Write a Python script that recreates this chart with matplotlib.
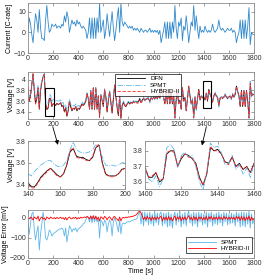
import numpy as np
import matplotlib.pyplot as plt
from matplotlib.patches import Rectangle

# --- data (10 s steps, 0..1800 s) ---
time_s = np.arange(0, 1801, 10)

current_c = [
    0, 7, 4, -1, -5, 2, 9, 6, 0, 11, 2, -3, -3, -4, 6, 13, 5, 0, 1, 4,
    3, 3, 4, 2, 3, 3, 2, 4, 3, 8, 5, 10, 7, 0, 3, 6, 4, 5, 3, 6,
    4, 5, 3, 2, 3, 2, 1, -3, 0, 7, -3, 7, -3, 7, -3, 7, 0, 14, 0, 3,
    6, -3, 1, 9, 3, -2, 4, 10, 2, -4, 1, 7, 12, 0, 14, 5, 3, 5, 4, 3,
    2, 3, 2, 3, 1, 2, 1, 2, 1, 0, 2, 1, 0, 1, 1, 0, 1, 2, 0, 1,
    0, 1, 0, 1, -1, 1, -5, -2, 1, 5, -3, 5, -3, 5, -3, 5, 0, 13, 2, -3,
    5, 3, 7, -4, 3, 1, 8, 2, -5, 0, 5, 3, 13, 1, 8, 2, -3, 3, 0, 1,
    0, 3, 1, 0, 1, 0, 1, 4, 1, 0, 1, 2, 6, 2, 1, 2, 1, 0, 1, 2,
    1, 1, 2, 0, 1, 0, -5, -2, 0, 6, -3, 6, -3, 6, -3, 3, 12, -6, 0, -1,
    -1,
]

dfn_v = [
    3.85, 3.60, 3.70, 3.90, 4.10, 3.80, 3.55, 3.65, 3.85, 3.45, 3.80, 3.95, 4.05, 4.10, 3.55, 3.45, 3.47, 3.65, 3.65, 3.50,
    3.55, 3.55, 3.52, 3.56, 3.54, 3.55, 3.57, 3.50, 3.52, 3.40, 3.48, 3.32, 3.42, 3.60, 3.50, 3.42, 3.47, 3.45, 3.50, 3.42,
    3.47, 3.45, 3.50, 3.55, 3.52, 3.55, 3.60, 3.75, 3.65, 3.45, 3.80, 3.45, 3.85, 3.45, 3.85, 3.45, 3.70, 3.30, 3.72, 3.62,
    3.50, 3.82, 3.68, 3.40, 3.62, 3.78, 3.58, 3.38, 3.65, 3.90, 3.68, 3.48, 3.33, 3.70, 3.28, 3.52, 3.58, 3.52, 3.50, 3.55,
    3.58, 3.55, 3.58, 3.56, 3.60, 3.58, 3.60, 3.58, 3.60, 3.65, 3.58, 3.62, 3.65, 3.62, 3.63, 3.66, 3.64, 3.60, 3.66, 3.64,
    3.67, 3.65, 3.68, 3.65, 3.70, 3.65, 3.85, 3.76, 3.67, 3.55, 3.80, 3.55, 3.80, 3.55, 3.80, 3.55, 3.70, 3.30, 3.62, 3.80,
    3.55, 3.62, 3.45, 3.85, 3.60, 3.67, 3.42, 3.64, 3.88, 3.70, 3.55, 3.62, 3.30, 3.66, 3.45, 3.64, 3.82, 3.62, 3.70, 3.66,
    3.68, 3.62, 3.75, 3.60, 3.82, 3.72, 3.68, 3.58, 3.70, 3.74, 3.70, 3.66, 3.52, 3.65, 3.68, 3.65, 3.68, 3.72, 3.68, 3.65,
    3.68, 3.69, 3.65, 3.72, 3.68, 3.72, 3.88, 3.78, 3.70, 3.50, 3.80, 3.50, 3.80, 3.50, 3.80, 3.60, 3.30, 3.92, 3.70, 3.72,
    3.72,
]

# error = DFN - model, in mV
spmt_err_mv = [
    -20, -80, -30, 20, 30, -60, -110, -70, -40, -160, -80, -30, 30, -20, -100, -110, -90, -60, -70, -90,
    -80, -75, -70, -65, -60, -55, -55, -50, -60, -90, -50, -120, -80, -40, -50, -70, -55, -60, -50, -70,
    -55, -50, -45, -40, -30, -25, -10, 5, 0, -20, 10, -25, 10, -20, 5, -20, -5, -100, -10, -20,
    -40, -10, -20, -70, -30, -10, -25, -90, -20, 0, -15, -40, -70, -10, -80, -30, -25, -30, -25, -20,
    -18, -20, -15, -12, -10, -8, -5, 0, 20, 30, -30, 30, -40, 30, -20, 25, -35, 30, -30, 20,
    -40, 30, -25, 25, -35, 20, 30, -40, 25, -30, 25, -45, 30, -40, 20, -50, 10, 30, -35, 25,
    -20, 30, -45, 20, -30, 30, -40, 15, 35, -25, 20, -40, 30, -30, 25, -45, 30, -20, 25, -35,
    20, -30, 30, -45, 25, -20, 30, -40, 20, -30, 25, -35, 30, -25, 20, -40, 30, -20, 25, -35,
    20, -30, 25, -25, 20, -40, 30, -20, 25, -45, 30, -40, 30, -45, 25, -30, 35, -50, 20, -30,
    -10,
]

hybrid_err_mv = [
    0, -5, 5, 0, -10, 5, 0, -5, 10, -15, 0, 5, -5, 0, -10, 5, 0, -5, 5, 0,
    -3, 2, -4, 3, -2, 0, 4, -3, 2, -8, 3, -10, 0, 5, -2, -5, 3, -2, 4, -6,
    2, -3, 4, 0, 3, 5, 2, 8, 4, -5, 10, -6, 12, -5, 10, -8, 5, -15, 6, 2,
    -6, 8, 3, -10, 2, 6, -3, -12, 4, 8, -2, -6, -14, 5, -15, 0, 3, 0, 5, 2,
    6, 4, 8, 6, 10, 12, 15, 22, 30, 35, 25, 10, -8, 5, -10, 8, -5, 3, -12, 6,
    -8, 4, -10, 6, -5, 2, 10, -15, 4, -8, 5, -12, 8, -10, 3, -15, 0, 10, -12, 5,
    -6, 8, -14, 4, -8, 6, -10, 2, 12, -6, 3, -12, 8, -8, 5, -15, 6, -4, 5, -10,
    3, -8, 8, -12, 6, -4, 8, -10, 4, -6, 5, -9, 7, -5, 3, -10, 8, -4, 5, -8,
    4, -6, 5, -5, 3, -10, 8, -4, 6, -12, 8, -10, 6, -14, 5, -8, 10, -15, 5, -10,
    -5,
]

# zoom windows (2 s steps)
zoom1_t = np.arange(140, 201, 2)
zoom1_dfn = [3.42, 3.38, 3.38, 3.42, 3.47, 3.50, 3.53, 3.55, 3.52, 3.49, 3.47, 3.50, 3.58, 3.70, 3.73, 3.66,
             3.65, 3.65, 3.63, 3.62, 3.65, 3.74, 3.76, 3.60, 3.50, 3.48, 3.48, 3.48, 3.50, 3.54, 3.55]
zoom1_spmt = [3.50, 3.48, 3.52, 3.55, 3.58, 3.60, 3.62, 3.62, 3.59, 3.57, 3.56, 3.58, 3.62, 3.72, 3.79, 3.72,
              3.70, 3.69, 3.69, 3.70, 3.72, 3.77, 3.75, 3.65, 3.58, 3.57, 3.58, 3.57, 3.58, 3.60, 3.60]
zoom1_hybrid = [3.40, 3.37, 3.37, 3.41, 3.46, 3.49, 3.52, 3.55, 3.51, 3.48, 3.47, 3.50, 3.59, 3.71, 3.74, 3.65,
                3.64, 3.64, 3.62, 3.62, 3.66, 3.75, 3.77, 3.59, 3.49, 3.48, 3.47, 3.48, 3.50, 3.53, 3.55]

zoom2_t = np.arange(1400, 1461, 2)
zoom2_dfn = [3.69, 3.63, 3.63, 3.66, 3.60, 3.62, 3.78, 3.80, 3.80, 3.70, 3.75, 3.78, 3.77, 3.75, 3.72, 3.63,
             3.58, 3.65, 3.82, 3.80, 3.81, 3.78, 3.73, 3.72, 3.76, 3.70, 3.72, 3.68, 3.70, 3.66, 3.72]
zoom2_spmt = [3.68, 3.62, 3.60, 3.64, 3.57, 3.62, 3.82, 3.84, 3.81, 3.69, 3.77, 3.79, 3.76, 3.77, 3.70, 3.60,
              3.55, 3.66, 3.85, 3.82, 3.83, 3.79, 3.71, 3.72, 3.77, 3.68, 3.71, 3.65, 3.69, 3.63, 3.72]
zoom2_hybrid = [3.70, 3.63, 3.64, 3.66, 3.61, 3.62, 3.79, 3.80, 3.79, 3.70, 3.76, 3.78, 3.76, 3.75, 3.71, 3.62,
                3.58, 3.66, 3.83, 3.80, 3.80, 3.78, 3.73, 3.71, 3.76, 3.70, 3.71, 3.68, 3.70, 3.66, 3.72]

# boxes drawn on the voltage panel: (t0, t1, v0, v1)
box1 = (135, 204, 3.33, 3.84)
box2 = (1393, 1459, 3.48, 3.98)

spmt_v = np.array(dfn_v) - np.array(spmt_err_mv) / 1000.0
hybrid_v = np.array(dfn_v) - np.array(hybrid_err_mv) / 1000.0

c_cur = '#2f88cc'
c_spmt = '#5cb6ea'
c_hyb = '#ff2a2a'
edge = '#8c8c8c'
fs = 5

plt.rcParams['font.family'] = ['Liberation Sans', 'DejaVu Sans']
plt.rcParams['font.size'] = fs

fig = plt.figure(figsize=(2.72, 2.75), dpi=100)
W, H = 272.0, 275.0


def px_axes(x0, y0, x1, y1):
    return fig.add_axes([x0 / W, 1 - y1 / H, (x1 - x0) / W, (y1 - y0) / H])


def style(ax):
    for s in ax.spines.values():
        s.set_color(edge)
        s.set_linewidth(0.6)
    ax.tick_params(direction='in', length=2, width=0.4, color='#555555', labelsize=fs,
                   pad=1.5, top=True, right=True, labelcolor='#333333')


ax1 = px_axes(28, 3, 254, 53)
ax2 = px_axes(28, 72, 254, 119)
ax3 = px_axes(28, 141, 125, 189)
ax3b = px_axes(145, 141, 254, 189)
ax4 = px_axes(28, 210, 254, 258)

# current
ax1.plot(time_s, current_c, color=c_cur, lw=0.6)
ax1.set_xlim(0, 1800)
ax1.set_ylim(-10, 14.2)
ax1.set_yticks([-10, 0, 10])
ax1.set_xticks(range(0, 1801, 200))
ax1.set_ylabel('Current [C-rate]', labelpad=1)

# voltage
ax2.plot(time_s, dfn_v, color='k', lw=0.6, label='DFN')
ax2.plot(time_s, spmt_v, color=c_spmt, lw=0.6, ls='-.', label='SPMT')
ax2.plot(time_s, hybrid_v, color=c_hyb, lw=0.6, ls=(0, (4, 2)), label='HYBRID-II')
ax2.set_xlim(0, 1800)
ax2.set_ylim(3.27, 4.14)
ax2.set_yticks([3.4, 3.6, 3.8, 4.0])
ax2.set_yticklabels(['3.4', '3.6', '3.8', '4'])
ax2.set_xticks(range(0, 1801, 200))
ax2.set_ylabel('Voltage [V]', labelpad=1)
leg = ax2.legend(loc='upper left', bbox_to_anchor=(0.385, 0.96), fontsize=4.5, frameon=True,
                 fancybox=False, edgecolor='k', handlelength=4.5, borderpad=0.3,
                 labelspacing=0.2, handletextpad=0.8, borderaxespad=0)
leg.get_frame().set_linewidth(0.6)
for b in (box1, box2):
    ax2.add_patch(Rectangle((b[0], b[2]), b[1] - b[0], b[3] - b[2], fill=False,
                            ec='k', lw=0.8, zorder=5))

# zoom windows
for ax, t, d, s, h in ((ax3, zoom1_t, zoom1_dfn, zoom1_spmt, zoom1_hybrid),
                       (ax3b, zoom2_t, zoom2_dfn, zoom2_spmt, zoom2_hybrid)):
    ax.plot(t, d, color='k', lw=0.6)
    ax.plot(t, s, color=c_spmt, lw=0.6, ls='-.')
    ax.plot(t, h, color=c_hyb, lw=0.6, ls=(0, (4, 2)))
ax3.set_xlim(140, 200)
ax3.set_ylim(3.36, 3.8)
ax3.set_xticks([140, 160, 180, 200])
ax3.set_yticks([3.4, 3.6, 3.8])
ax3.set_ylabel('Voltage [V]', labelpad=1)
ax3b.set_xlim(1400, 1460)
ax3b.set_ylim(3.555, 3.863)
ax3b.set_xticks([1400, 1420, 1440, 1460])
ax3b.set_yticks([3.6, 3.7, 3.8])

# error
ax4.plot(time_s, spmt_err_mv, color=c_spmt, lw=0.6, label='SPMT')
ax4.plot(time_s, hybrid_err_mv, color='#ff0000', lw=0.6, label='HYBRID-II')
ax4.set_xlim(0, 1800)
ax4.set_ylim(-200, 40)
ax4.set_yticks([-200, -100, 0])
ax4.set_xticks(range(0, 1801, 200))
ax4.set_ylabel('Voltage Error [mV]', labelpad=1)
ax4.set_xlabel('Time [s]', labelpad=1)
leg4 = ax4.legend(loc='lower right', bbox_to_anchor=(0.99, 0.1), fontsize=4.5, frameon=True,
                  fancybox=False, edgecolor='k', handlelength=4.5, borderpad=0.3,
                  labelspacing=0.2, handletextpad=0.8, borderaxespad=0)
leg4.get_frame().set_linewidth(0.6)

for ax in (ax1, ax2, ax3, ax3b, ax4):
    style(ax)

# arrows from the boxes to the zoom windows
ax3.annotate('', xy=(159, 3.74), xytext=(52 / W, 1 - 124 / H), textcoords='figure fraction',
             arrowprops=dict(arrowstyle='-|>', color='k', lw=0.6, mutation_scale=6),
             annotation_clip=False)
ax3b.annotate('', xy=(1431, 3.817), xytext=(207 / W, 1 - 124 / H), textcoords='figure fraction',
              arrowprops=dict(arrowstyle='-|>', color='k', lw=0.6, mutation_scale=6),
              annotation_clip=False)

fig.savefig('out.png', dpi=100)
